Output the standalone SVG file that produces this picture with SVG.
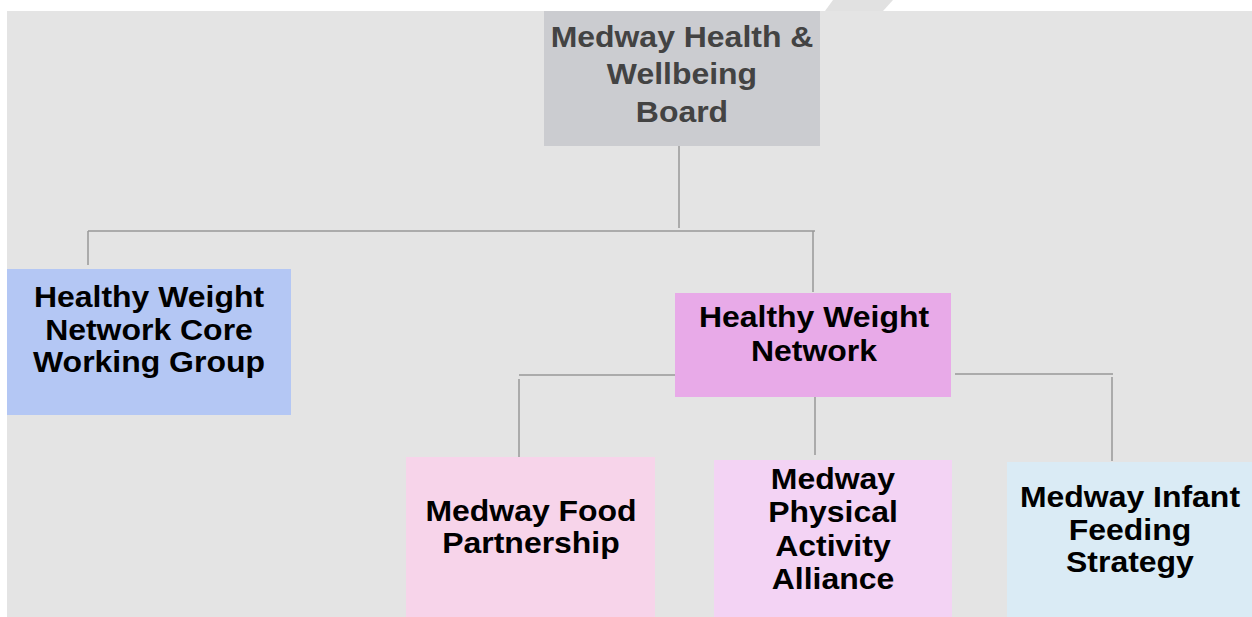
<svg xmlns="http://www.w3.org/2000/svg" width="1252" height="617" viewBox="0 0 1252 617">
<style>
.bg{fill:#e4e4e4}
.t{font-family:"Liberation Sans",Arial,sans-serif;font-weight:bold;font-size:30px;text-anchor:middle;fill:#000;transform-box:fill-box;transform-origin:center;transform:scaleX(1.065)}
.tg{fill:#434343}
.c{stroke:#999;stroke-width:1.5;fill:none}
</style>
<rect x="0" y="0" width="1252" height="617" fill="#fff"/>
<rect class="bg" x="7" y="11" width="1245" height="606"/>
<polygon points="833,0 893,0 883,11 825,11" fill="#e1e1e1"/>
<g id="connectors">
<path class="c" d="M679,146 V228"/>
<path class="c" d="M88,231 H815"/>
<path class="c" d="M88,231 V265"/>
<path class="c" d="M813,231 V292"/>
<path class="c" d="M519,375 H678"/>
<path class="c" d="M519,379 V457"/>
<path class="c" d="M815,397 V455"/>
<path class="c" d="M955,374 H1113"/>
<path class="c" d="M1112,377 V461"/>
</g>
<g id="board">
<rect x="544" y="11" width="276" height="135" fill="#cbccd0"/>
<text class="t tg" x="682" y="47">Medway Health &amp;</text>
<text class="t tg" x="682" y="84">Wellbeing</text>
<text class="t tg" x="682" y="122">Board</text>
</g>
<g id="core">
<rect x="7" y="269" width="284" height="146" fill="#b4c7f4"/>
<text class="t" x="149" y="307">Healthy Weight</text>
<text class="t" x="149" y="340">Network Core</text>
<text class="t" x="149" y="372">Working Group</text>
</g>
<g id="hwn">
<rect x="675" y="293" width="276" height="104" fill="#e8aae8"/>
<text class="t" x="814" y="327">Healthy Weight</text>
<text class="t" x="814" y="361">Network</text>
</g>
<g id="food">
<rect x="406" y="457" width="249" height="160" fill="#f7d4ea"/>
<text class="t" x="531" y="521">Medway Food</text>
<text class="t" x="531" y="553">Partnership</text>
</g>
<g id="physical">
<rect x="714" y="460" width="238" height="157" fill="#f3d3f4"/>
<text class="t" x="833" y="489">Medway</text>
<text class="t" x="833" y="522">Physical</text>
<text class="t" x="833" y="556">Activity</text>
<text class="t" x="833" y="589">Alliance</text>
</g>
<g id="infant">
<rect x="1007" y="462" width="245" height="155" fill="#daebf5"/>
<text class="t" x="1130" y="507">Medway Infant</text>
<text class="t" x="1130" y="540">Feeding</text>
<text class="t" x="1130" y="572">Strategy</text>
</g>
</svg>
